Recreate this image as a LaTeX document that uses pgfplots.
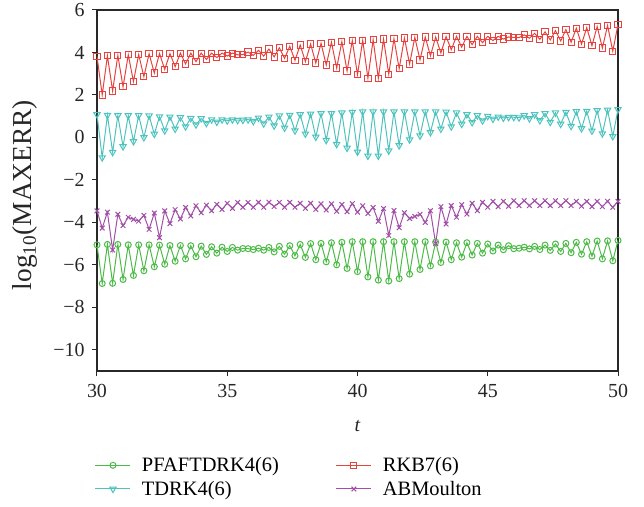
\documentclass[border=0pt]{standalone}
\usepackage{fontspec}
\setmainfont{Liberation Serif}
\usepackage{pgfplots}
\pgfplotsset{compat=1.18}
\usepackage{pgfplotstable}
\usetikzlibrary{calc}
\definecolor{cg}{RGB}{76,187,71}
\definecolor{cr}{RGB}{232,66,63}
\definecolor{cc}{RGB}{78,195,189}
\definecolor{cp}{RGB}{162,79,168}
\definecolor{frame}{RGB}{40,40,40}
\pgfplotstableread{
t g r c p
30.0 -5.06 3.81 1.08 -3.46
30.2 -6.88 2.00 -0.95 -4.27
30.4 -5.04 3.84 1.05 -3.52
30.6 -6.87 2.19 -0.70 -5.30
30.8 -5.04 3.86 1.03 -3.62
31.0 -6.69 2.38 -0.43 -4.15
31.2 -5.06 3.89 1.03 -3.76
31.4 -6.50 2.63 -0.19 -3.86
31.6 -5.06 3.90 1.03 -3.94
31.8 -6.28 2.86 0.00 -3.67
32.0 -5.06 3.94 1.02 -4.33
32.2 -6.09 3.03 0.16 -3.56
32.4 -5.07 3.95 0.98 -4.72
32.6 -5.97 3.20 0.32 -3.46
32.8 -5.09 3.95 0.97 -4.06
33.0 -5.83 3.33 0.40 -3.40
33.2 -5.09 3.97 0.94 -3.84
33.4 -5.72 3.46 0.51 -3.30
33.6 -5.10 3.97 0.90 -3.70
33.8 -5.62 3.57 0.60 -3.22
34.0 -5.12 3.97 0.89 -3.55
34.2 -5.51 3.67 0.67 -3.19
34.4 -5.15 3.97 0.84 -3.45
34.6 -5.45 3.76 0.73 -3.15
34.8 -5.17 3.97 0.84 -3.39
35.0 -5.37 3.83 0.79 -3.10
35.2 -5.18 3.97 0.84 -3.34
35.4 -5.31 3.89 0.81 -3.06
35.6 -5.23 3.90 0.82 -3.29
35.8 -5.24 4.02 0.84 -3.06
36.0 -5.28 3.86 0.76 -3.29
36.2 -5.22 4.10 0.92 -3.06
36.4 -5.31 3.83 0.65 -3.29
36.6 -5.18 4.16 0.97 -3.05
36.8 -5.39 3.79 0.55 -3.26
37.0 -5.13 4.22 1.02 -3.06
37.2 -5.50 3.72 0.45 -3.29
37.4 -5.10 4.29 1.05 -3.06
37.6 -5.57 3.63 0.32 -3.29
37.8 -5.04 4.35 1.08 -3.10
38.0 -5.65 3.57 0.17 -3.34
38.2 -5.00 4.40 1.11 -3.10
38.4 -5.76 3.50 0.02 -3.39
38.6 -4.99 4.43 1.13 -3.13
38.8 -5.86 3.41 -0.13 -3.42
39.0 -4.96 4.48 1.13 -3.13
39.2 -6.00 3.27 -0.32 -3.48
39.4 -4.94 4.51 1.16 -3.16
39.6 -6.17 3.13 -0.50 -3.50
39.8 -4.91 4.56 1.19 -3.12
40.0 -6.32 2.95 -0.68 -3.52
40.2 -4.91 4.57 1.21 -3.22
40.4 -6.57 2.79 -0.87 -3.58
40.6 -4.91 4.60 1.21 -3.30
40.8 -6.72 2.79 -0.87 -3.95
41.0 -4.91 4.63 1.21 -3.35
41.2 -6.76 2.98 -0.63 -4.62
41.4 -4.91 4.65 1.21 -3.44
41.6 -6.65 3.24 -0.38 -4.25
41.8 -4.91 4.68 1.21 -3.55
42.0 -6.44 3.46 -0.11 -3.82
42.2 -4.91 4.71 1.21 -3.72
42.4 -6.22 3.65 0.08 -3.62
42.6 -4.91 4.73 1.21 -4.00
42.8 -6.05 3.84 0.24 -3.45
43.0 -4.93 4.73 1.21 -5.00
43.2 -5.89 3.98 0.40 -3.26
43.4 -4.93 4.75 1.20 -4.08
43.6 -5.76 4.13 0.51 -3.21
43.8 -4.96 4.76 1.16 -3.76
44.0 -5.64 4.25 0.63 -3.17
44.2 -4.96 4.76 1.08 -3.61
44.4 -5.54 4.37 0.71 -3.10
44.6 -4.99 4.76 1.03 -3.45
44.8 -5.45 4.46 0.79 -3.06
45.0 -5.02 4.76 1.00 -3.29
45.2 -5.35 4.56 0.87 -3.01
45.4 -5.07 4.76 0.97 -3.26
45.6 -5.29 4.63 0.92 -3.01
45.8 -5.10 4.73 0.95 -3.24
46.0 -5.24 4.71 0.95 -2.98
46.2 -5.22 4.70 0.93 -3.21
46.4 -5.17 4.83 1.03 -2.98
46.6 -5.25 4.67 0.89 -3.21
46.8 -5.13 4.90 1.08 -2.98
47.0 -5.28 4.62 0.80 -3.21
47.2 -5.07 4.97 1.13 -2.98
47.4 -5.32 4.59 0.72 -3.21
47.6 -5.02 5.03 1.16 -2.98
47.8 -5.37 4.54 0.63 -3.21
48.0 -4.99 5.08 1.19 -2.98
48.2 -5.43 4.48 0.53 -3.21
48.4 -4.94 5.14 1.22 -3.01
48.6 -5.50 4.39 0.42 -3.24
48.8 -4.91 5.17 1.24 -3.01
49.0 -5.59 4.32 0.31 -3.26
49.2 -4.88 5.22 1.27 -3.01
49.4 -5.72 4.21 0.18 -3.26
49.6 -4.87 5.27 1.29 -3.01
49.8 -5.81 4.06 0.05 -3.29
50.0 -4.85 5.32 1.32 -3.01
}\datatable
\begin{document}
\begin{tikzpicture}
\begin{axis}[
  scale only axis, width=521bp, height=361bp,
  xmin=30, xmax=50, ymin=-11, ymax=6,
  xtick={30,35,40,45,50}, xticklabels={30,35,40,45,50},
  ytick={-10,-8,-6,-4,-2,0,2,4,6},
  yticklabels={−10,−8,−6,−4,−2,0,2,4,6},
  tick align=outside, xtick pos=bottom, ytick pos=left,
  major tick length=5bp,
  tick style={line width=1bp, color=frame},
  axis line style={line width=1.3bp, color=frame},
  tick label style={font=\fontsize{20}{23}\selectfont, color=black!85},
  xticklabel style={yshift=-5bp},
  yticklabel style={xshift=-4bp},
  xlabel={\textit{t}},
  ylabel={log\textsubscript{10}(MAXERR)},
  xlabel style={font=\fontsize{20}{23}\selectfont, color=black!85, at={(axis description cs:0.5,-0.152)}, anchor=center},
  ylabel style={font=\fontsize{27.5}{31}\selectfont, color=black!85, at={(axis description cs:-0.138,0.4875)}, anchor=center},
  legend columns=2,
  legend cell align=left,
  legend style={at={(rel axis cs:-0.01,-0.228)}, anchor=north west, draw=none,
    font=\fontsize{20.5}{23}\selectfont, row sep=4bp,
    /tikz/every odd column/.append style={column sep=9bp},
    /tikz/every even column/.append style={column sep=55bp}},
  legend image code/.code={\draw[mark repeat=2,mark phase=2] plot coordinates {(0bp,0bp) (17.5bp,0bp) (35bp,0bp)};},
  every axis plot/.append style={line width=1bp},
]
\addplot[color=cg, mark=o, mark size=3bp, mark options={line width=1bp}] table[x=t,y=g] {\datatable};
\addlegendentry{PFAFTDRK4(6)}
\addplot[color=cr, mark=square, mark size=3.1bp, mark options={line width=1bp}] table[x=t,y=r] {\datatable};
\addlegendentry{RKB7(6)}
\addplot[color=cc, mark=triangle, mark size=3.6bp, mark options={rotate=180, line width=1bp}] table[x=t,y=c] {\datatable};
\addlegendentry{TDRK4(6)}
\addplot[color=cp, mark=x, mark size=3.3bp, mark options={line width=1bp}] table[x=t,y=p] {\datatable};
\addlegendentry{ABMoulton}
\end{axis}
\pgfresetboundingbox
\path ($(current axis.south west)+(-97bp,-136bp)$) rectangle ($(current axis.north east)+(26bp,10bp)$);
\end{tikzpicture}
\end{document}
